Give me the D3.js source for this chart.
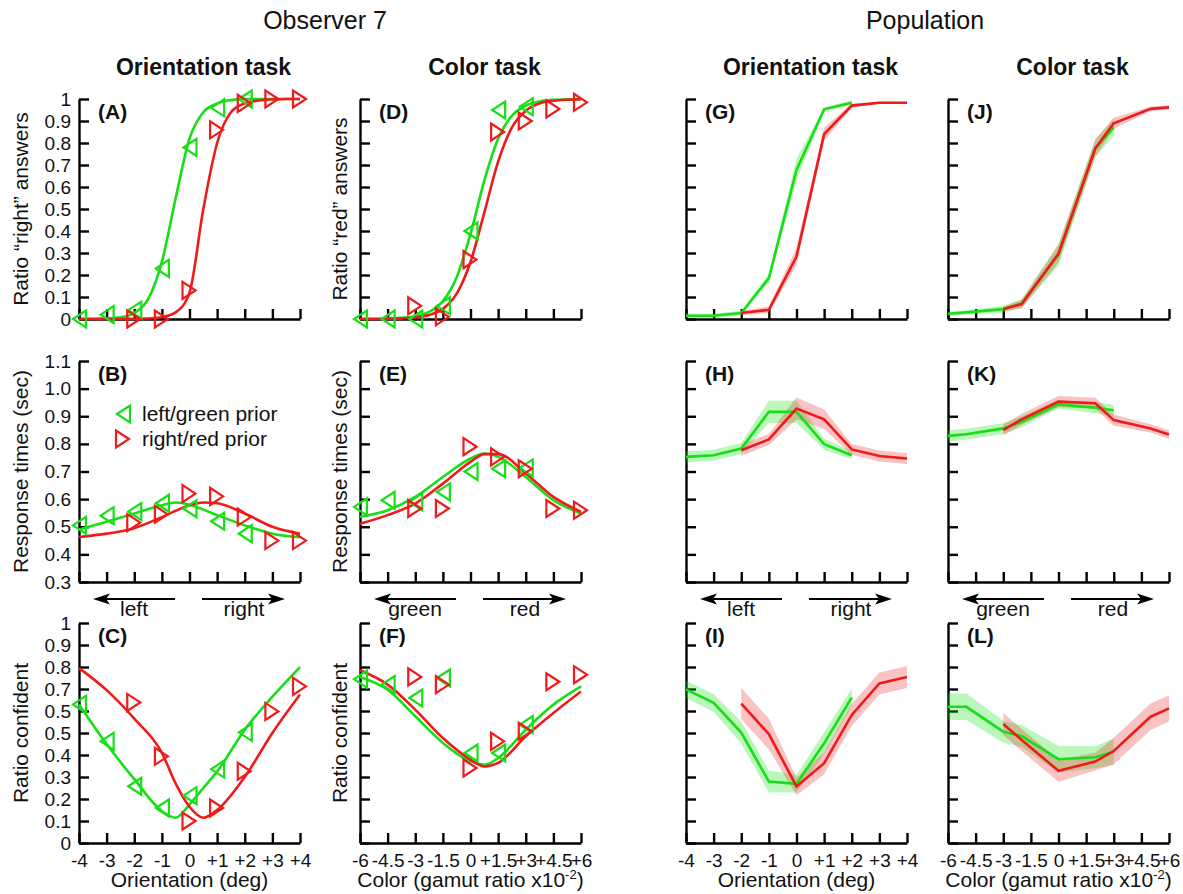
<!DOCTYPE html>
<html>
<head>
<meta charset="utf-8">
<script src="https://cdn.jsdelivr.net/npm/d3@7"></script>
<style>
body{margin:0;background:#fff;}
text{font-family:"Liberation Sans",Arial,Helvetica,sans-serif;fill:#111;}
</style>
</head>
<body>
<svg id="chart" width="1183" height="894"></svg>
<script>
// ---- axes / ticks ----
var oriTicks=[-4,-3,-2,-1,0,1,2,3,4];
var oriTickLabels=['-4','-3','-2','-1','0','+1','+2','+3','+4'];
var colTicks=[-6,-4.5,-3,-1.5,0,1.5,3,4.5,6];
var colTickLabels=['-6','-4.5','-3','-1.5','0','+1.5','+3','+4.5','+6'];
var ratioTicks=[0,0.1,0.2,0.3,0.4,0.5,0.6,0.7,0.8,0.9,1];
var ratioTickLabels=['0','0.1','0.2','0.3','0.4','0.5','0.6','0.7','0.8','0.9','1'];
var rtTicks=[0.3,0.4,0.5,0.6,0.7,0.8,0.9,1.0,1.1];
var rtTickLabels=['0.3','0.4','0.5','0.6','0.7','0.8','0.9','1.0','1.1'];
var confTickLabels=['0','0.1','0.2','0.3','0.4','0.5','0.5','0.7','0.8','0.9','1'];

// ---- observer 7: x positions of the markers ----
var oriGreenX=[-4,-3,-2,-1,0,1,2];
var oriRedX=[-2,-1,0,1,2,3,4];
var colGreenX=[-6,-4.5,-3,-1.5,0,1.5,3];
var colRedX=[-3,-1.5,0,1.5,3,4.5,6];

// (A) orientation, ratio "right"
var aGreen=[0,0.02,0.04,0.23,0.78,0.96,1.0];
var aRed=[0,0,0.13,0.86,0.98,1.0,1.0];
var aFitX=[-4,-3.5,-3,-2.5,-2,-1.5,-1,-0.5,0,0.5,1,1.5,2,2.5,3,3.5,4];
var aFitGreen=[0,0.001,0.003,0.008,0.027,0.09,0.26,0.55,0.82,0.94,0.98,0.995,1,1,1,1,1];
var aFitRed=[0,0,0,0,0.001,0.002,0.008,0.03,0.12,0.5,0.8,0.94,0.98,0.993,0.998,1,1];

// (B) orientation, response times
var bGreen=[0.505,0.54,0.555,0.585,0.565,0.52,0.475];
var bRed=[0.515,0.545,0.62,0.61,0.535,0.45,0.45];
var bFitX=[-4,-3,-2,-1,-0.5,0,0.5,1,2,3,4];
var bFitGreen=[0.49,0.518,0.548,0.578,0.588,0.58,0.562,0.542,0.505,0.475,0.462];
var bFitRed=[0.463,0.475,0.495,0.535,0.558,0.578,0.588,0.585,0.548,0.5,0.475];

// (C) orientation, ratio confident
var cGreen=[0.63,0.462,0.258,0.159,0.215,0.336,0.503];
var cRed=[0.639,0.394,0.10,0.159,0.326,0.598,0.712];
var cFitX=[-4,-3,-2,-1,-0.5,0,0.5,1,2,3,4];
var cFitGreen=[0.63,0.45,0.29,0.145,0.115,0.175,0.25,0.325,0.515,0.665,0.8];
var cFitRed=[0.795,0.695,0.565,0.41,0.27,0.165,0.115,0.15,0.30,0.50,0.675];

// (D) color, ratio "red"
var dGreen=[0,0,0,0.06,0.40,0.95,0.965];
var dRed=[0.06,0.01,0.27,0.85,0.90,0.955,0.985];
var dFitX=[-6,-5.25,-4.5,-3.75,-3,-2.25,-1.5,-0.75,0,0.75,1.5,2.25,3,3.75,4.5,5.25,6];
var dFitGreen=[0,0.001,0.002,0.005,0.012,0.032,0.081,0.19,0.387,0.629,0.819,0.924,0.97,0.989,0.996,0.998,0.999];
var dFitRed=[0,0,0.001,0.003,0.007,0.018,0.046,0.115,0.259,0.484,0.715,0.871,0.947,0.98,0.992,0.997,0.999];

// (E) color, response times
var eGreen=[0.572,0.596,0.59,0.626,0.70,0.71,0.713];
var eRed=[0.566,0.566,0.79,0.753,0.71,0.566,0.56];
var eFitX=[-6,-4.5,-3,-1.5,0,0.75,1.5,3,4.5,6];
var eFitGreen=[0.536,0.56,0.608,0.68,0.747,0.765,0.753,0.68,0.596,0.548];
var eFitRed=[0.511,0.542,0.584,0.656,0.735,0.763,0.763,0.693,0.608,0.554];

// (F) color, ratio confident
var fGreen=[0.745,0.72,0.659,0.75,0.409,0.409,0.538];
var fRed=[0.755,0.72,0.341,0.462,0.508,0.733,0.765];
var fFitX=[-6,-4.5,-3,-1.5,0,0.75,1.5,3,4.5,6];
var fFitGreen=[0.755,0.697,0.576,0.455,0.371,0.356,0.386,0.515,0.629,0.712];
var fFitRed=[0.785,0.72,0.606,0.477,0.379,0.348,0.364,0.485,0.591,0.689];

// ---- population: means and band half-widths ----
var popColGreenX=[-6,-5,-3,-2,0,2,3];
var popColRedX=[-3,-2,0,2,3,5,6];

var gGreen=[0.015,0.015,0.027,0.186,0.678,0.953,0.983];
var gGreenErr=[0.01,0.01,0.01,0.02,0.05,0.01,0.01];
var gRed=[0.027,0.042,0.284,0.84,0.97,0.983,0.983];
var gRedErr=[0.01,0.015,0.04,0.03,0.01,0.005,0.005];

var hGreen=[0.753,0.759,0.783,0.916,0.916,0.799,0.759];
var hGreenErr=[0.02,0.02,0.02,0.04,0.04,0.02,0.015];
var hRed=[0.777,0.816,0.928,0.889,0.78,0.756,0.747];
var hRedErr=[0.02,0.02,0.04,0.035,0.02,0.02,0.02];

var iGreen=[0.698,0.637,0.502,0.279,0.269,0.453,0.662];
var iGreenErr=[0.04,0.04,0.05,0.05,0.04,0.05,0.04];
var iRed=[0.634,0.495,0.257,0.363,0.582,0.725,0.755];
var iRedErr=[0.07,0.07,0.04,0.05,0.05,0.05,0.05];

var jGreen=[0.024,0.03,0.045,0.07,0.292,0.776,0.871];
var jGreenErr=[0.01,0.01,0.015,0.02,0.05,0.04,0.04];
var jRed=[0.045,0.068,0.297,0.776,0.89,0.955,0.962];
var jRedErr=[0.01,0.02,0.04,0.04,0.025,0.01,0.01];

var kGreen=[0.829,0.835,0.856,0.88,0.943,0.931,0.922];
var kGreenErr=[0.02,0.02,0.02,0.02,0.015,0.02,0.02];
var kRed=[0.85,0.889,0.953,0.947,0.886,0.856,0.834];
var kRedErr=[0.02,0.02,0.02,0.02,0.02,0.015,0.015];

var lGreen=[0.619,0.619,0.506,0.486,0.381,0.39,0.415];
var lGreenErr=[0.06,0.06,0.05,0.05,0.06,0.05,0.06];
var lRed=[0.541,0.468,0.328,0.37,0.418,0.574,0.612];
var lRedErr=[0.05,0.05,0.05,0.04,0.06,0.06,0.06];

// ---- layout ----
var GREEN='#16df16', RED='#f01a1a';
var colLeft=[79,360,686,948], colW=221;
var rowTop=[99,361,623], rowH=[220,221,220];
var yDomains=[[0,1],[0.3,1.1],[0,1]];
var yTicks=[ratioTicks,rtTicks,ratioTicks];
var yTickLabels=[ratioTickLabels,rtTickLabels,confTickLabels];
var yTitles=['Ratio \u201cright\u201d answers','Response times (sec)','Ratio confident'];
var yTitles2=['Ratio \u201cred\u201d answers','Response times (sec)','Ratio confident'];

var svg=d3.select('#chart');

function xScale(c) {
  var dom=(c%2==0)?[-4,4]:[-6,6];
  return d3.scaleLinear().domain(dom).range([colLeft[c],colLeft[c]+colW]);
}
function yScale(r) {
  return d3.scaleLinear().domain(yDomains[r]).range([rowTop[r]+rowH[r],rowTop[r]]);
}

function draw_axes(c,r,letter) {
  var xs=xScale(c), ys=yScale(r);
  var xt=(c%2==0)?oriTicks:colTicks;
  var xl=(c%2==0)?oriTickLabels:colTickLabels;
  var xAxis=d3.axisBottom(xs).tickValues(xt).tickSizeInner(-10).tickSizeOuter(0).tickPadding(11)
    .tickFormat(function(d,i){return r==2?xl[i]:'';});
  var gx=svg.append('g').attr('transform','translate(0,'+(rowTop[r]+rowH[r])+')').call(xAxis);
  var yl=yTickLabels[r];
  var yAxis=d3.axisLeft(ys).tickValues(yTicks[r]).tickSizeInner(-10).tickSizeOuter(0).tickPadding(8)
    .tickFormat(function(d,i){return c==0?yl[i]:'';});
  var gy=svg.append('g').attr('transform','translate('+colLeft[c]+',0)').call(yAxis);
  [gx,gy].forEach(function(g){
    g.attr('stroke-width',2.4).attr('font-size',19).attr('font-family',null);
    g.selectAll('path,line').attr('stroke','#000');
  });
  svg.append('text').attr('x',colLeft[c]+19).attr('y',rowTop[r]+20)
    .attr('font-size',21).attr('font-weight','bold').text('('+letter+')');
}

function tri(dir) {
  // dir -1: pointing left (green prior), +1: pointing right (red prior)
  return dir<0?'M-6,0L7,-8.5L7,8.5Z':'M6,0L-7,-8.5L-7,8.5Z';
}

function draw_observer(c,r,fitX,fitG,fitR,gx,gy,rx,ry) {
  var xs=xScale(c), ys=yScale(r);
  var line=d3.line().x(function(d){return xs(d[0]);}).y(function(d){return ys(d[1]);}).curve(d3.curveMonotoneX);
  var fg=fitX.map(function(x,i){return [x,fitG[i]];});
  var fr=fitX.map(function(x,i){return [x,fitR[i]];});
  svg.append('path').attr('d',line(fg)).attr('fill','none').attr('stroke',GREEN).attr('stroke-width',2.6);
  svg.append('path').attr('d',line(fr)).attr('fill','none').attr('stroke',RED).attr('stroke-width',2.6);
  svg.selectAll(null).data(gx.map(function(x,i){return [x,gy[i]];})).enter().append('path')
    .attr('d',tri(-1)).attr('transform',function(d){return 'translate('+xs(d[0])+','+ys(d[1])+')';})
    .attr('fill','none').attr('stroke',GREEN).attr('stroke-width',2.2);
  svg.selectAll(null).data(rx.map(function(x,i){return [x,ry[i]];})).enter().append('path')
    .attr('d',tri(1)).attr('transform',function(d){return 'translate('+xs(d[0])+','+ys(d[1])+')';})
    .attr('fill','none').attr('stroke',RED).attr('stroke-width',2.2);
}

function draw_population(c,r,gx,gm,ge,rx,rm,re) {
  var xs=xScale(c), ys=yScale(r);
  var area=d3.area().x(function(d){return xs(d[0]);}).y0(function(d){return ys(d[1]-d[2]);}).y1(function(d){return ys(d[1]+d[2]);});
  var line=d3.line().x(function(d){return xs(d[0]);}).y(function(d){return ys(d[1]);});
  var G=gx.map(function(x,i){return [x,gm[i],ge[i]];});
  var R=rx.map(function(x,i){return [x,rm[i],re[i]];});
  svg.append('path').attr('d',area(G)).attr('fill','rgba(30,225,30,0.3)');
  svg.append('path').attr('d',area(R)).attr('fill','rgba(235,40,40,0.28)');
  svg.append('path').attr('d',line(G)).attr('fill','none').attr('stroke',GREEN).attr('stroke-width',2.6);
  svg.append('path').attr('d',line(R)).attr('fill','none').attr('stroke',RED).attr('stroke-width',2.6);
}

var letters=[['A','B','C'],['D','E','F'],['G','H','I'],['J','K','L']];
for (var c=0; c<4; c++) {
  for (var r=0; r<3; r++) draw_axes(c,r,letters[c][r]);
}

draw_observer(0,0,aFitX,aFitGreen,aFitRed,oriGreenX,aGreen,oriRedX,aRed);
draw_observer(0,1,bFitX,bFitGreen,bFitRed,oriGreenX,bGreen,oriRedX,bRed);
draw_observer(0,2,cFitX,cFitGreen,cFitRed,oriGreenX,cGreen,oriRedX,cRed);
draw_observer(1,0,dFitX,dFitGreen,dFitRed,colGreenX,dGreen,colRedX,dRed);
draw_observer(1,1,eFitX,eFitGreen,eFitRed,colGreenX,eGreen,colRedX,eRed);
draw_observer(1,2,fFitX,fFitGreen,fFitRed,colGreenX,fGreen,colRedX,fRed);

draw_population(2,0,oriGreenX,gGreen,gGreenErr,oriRedX,gRed,gRedErr);
draw_population(2,1,oriGreenX,hGreen,hGreenErr,oriRedX,hRed,hRedErr);
draw_population(2,2,oriGreenX,iGreen,iGreenErr,oriRedX,iRed,iRedErr);
draw_population(3,0,popColGreenX,jGreen,jGreenErr,popColRedX,jRed,jRedErr);
draw_population(3,1,popColGreenX,kGreen,kGreenErr,popColRedX,kRed,kRedErr);
draw_population(3,2,popColGreenX,lGreen,lGreenErr,popColRedX,lRed,lRedErr);

// y axis titles
for (var r=0; r<3; r++) {
  var ym=rowTop[r]+rowH[r]/2;
  svg.append('text').attr('transform','translate(21,'+ym+') rotate(-90)').attr('dy','0.35em')
    .attr('text-anchor','middle').attr('font-size',21).text(yTitles[r]);
  svg.append('text').attr('transform','translate(340,'+ym+') rotate(-90)').attr('dy','0.35em')
    .attr('text-anchor','middle').attr('font-size',21).text(yTitles2[r]);
}

// x axis titles
svg.append('text').attr('x',colLeft[0]+colW/2).attr('y',887).attr('text-anchor','middle').attr('font-size',21).text('Orientation (deg)');
svg.append('text').attr('x',colLeft[2]+colW/2).attr('y',887).attr('text-anchor','middle').attr('font-size',21).text('Orientation (deg)');
[1,3].forEach(function(c){
  var t=svg.append('text').attr('x',colLeft[c]+colW/2).attr('y',887).attr('text-anchor','middle').attr('font-size',21);
  t.append('tspan').text('Color (gamut ratio x10');
  t.append('tspan').attr('dy',-8).attr('font-size',13).text('-2');
  t.append('tspan').attr('dy',8).text(')');
});

// headers
svg.append('text').attr('x',325).attr('y',29).attr('text-anchor','middle').attr('font-size',25).text('Observer 7');
svg.append('text').attr('x',925).attr('y',29).attr('text-anchor','middle').attr('font-size',25).text('Population');
var taskNames=['Orientation task','Color task','Orientation task','Color task'];
taskNames.forEach(function(s,c){
  svg.append('text').attr('x',colLeft[c]+colW/2+14).attr('y',75).attr('text-anchor','middle')
    .attr('font-size',23).attr('font-weight','bold').text(s);
});

// legend in (B)
svg.append('path').attr('d',tri(-1)).attr('transform','translate(123,414)').attr('fill','none').attr('stroke',GREEN).attr('stroke-width',2.2);
svg.append('path').attr('d',tri(1)).attr('transform','translate(123,439)').attr('fill','none').attr('stroke',RED).attr('stroke-width',2.2);
svg.append('text').attr('x',142).attr('y',414).attr('dy','0.35em').attr('font-size',21).text('left/green prior');
svg.append('text').attr('x',142).attr('y',439).attr('dy','0.35em').attr('font-size',21).text('right/red prior');

// direction arrows between rows 2 and 3
var arrowWords=[['left','right'],['green','red'],['left','right'],['green','red']];
var ay=599;
for (var c=0; c<4; c++) {
  var x0=colLeft[c];
  var l1=x0+14, l2=x0+96, r1=x0+123, r2=x0+206;
  svg.append('line').attr('x1',l1+10).attr('x2',l2).attr('y1',ay).attr('y2',ay).attr('stroke','#000').attr('stroke-width',2.2);
  svg.append('path').attr('d','M'+l1+','+ay+'L'+(l1+17)+','+(ay-5.5)+'L'+(l1+13)+','+ay+'L'+(l1+17)+','+(ay+5.5)+'Z').attr('fill','#000');
  svg.append('line').attr('x1',r1).attr('x2',r2-10).attr('y1',ay).attr('y2',ay).attr('stroke','#000').attr('stroke-width',2.2);
  svg.append('path').attr('d','M'+r2+','+ay+'L'+(r2-17)+','+(ay-5.5)+'L'+(r2-13)+','+ay+'L'+(r2-17)+','+(ay+5.5)+'Z').attr('fill','#000');
  svg.append('text').attr('x',x0+55).attr('y',616).attr('text-anchor','middle').attr('font-size',21).text(arrowWords[c][0]);
  svg.append('text').attr('x',x0+165).attr('y',616).attr('text-anchor','middle').attr('font-size',21).text(arrowWords[c][1]);
}
</script>
</body>
</html>
